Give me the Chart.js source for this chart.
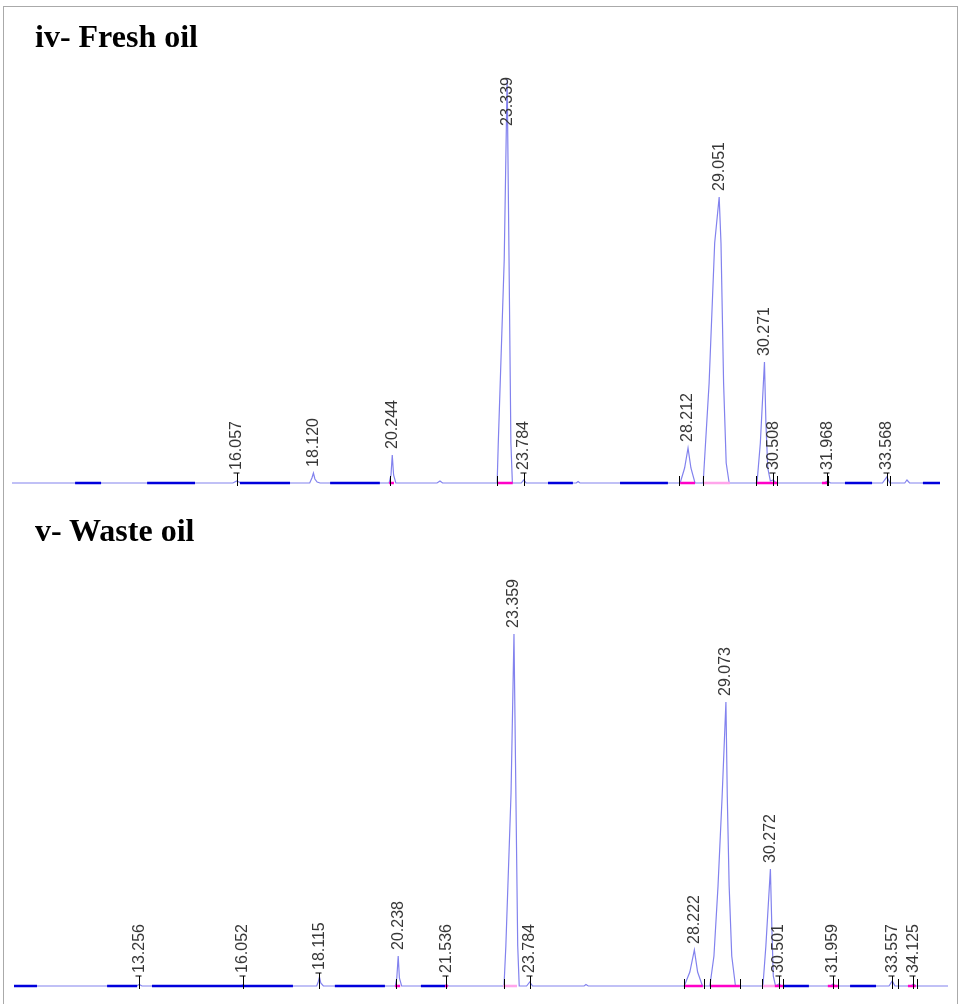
<!DOCTYPE html>
<html>
<head>
    <title>Chromatograms</title>
    <style>
        body {
            margin: 0;
            background-color: white;
            width: 959px;
            height: 1004px;
            overflow: hidden;
            position: relative;
        }

        #frame {
            position: absolute;
            left: 3px;
            top: 6px;
            width: 953px;
            height: 1010px;
            border: 1px solid rgb(170, 170, 170);
        }

        .panel-title {
            position: absolute;
            left: 35px;
            font-family: 'Liberation Serif', 'Times New Roman', serif;
            font-weight: bold;
            font-size: 32px;
            line-height: 32px;
            color: black;
            white-space: nowrap;
        }

        canvas {
            position: absolute;
            left: 0;
        }
    </style>
    <script src="https://cdn.jsdelivr.net/npm/chart.js"></script>
</head>
<body>
    <div id="frame"></div>

    <canvas id="fresh-chart" width="959" height="500" style="top:0px"></canvas>
    <canvas id="waste-chart" width="959" height="504" style="top:500px"></canvas>

    <div class="panel-title" style="top:20px">iv- Fresh oil</div>
    <div class="panel-title" style="top:514px">v- Waste oil</div>

    <script>
        // Retention time (min), detector response (arbitrary units)
        const freshTrace = [
            [10.0, 0], [15.95, 0], [16.057, 2], [16.17, 0],
            [18.02, 0], [18.08, 5], [18.12, 10], [18.16, 4], [18.22, 1], [18.3, 0],
            [20.16, 0], [20.21, 8], [20.244, 28], [20.28, 8], [20.34, 0],
            [21.45, 0], [21.53, 2], [21.6, 0],
            [23.07, 0], [23.10, 40], [23.26, 223], [23.339, 405], [23.39, 223], [23.44, 40], [23.48, 0],
            [23.72, 0], [23.784, 3], [23.85, 0],
            [25.2, 0], [25.25, 1.5], [25.3, 0],
            [28.00, 0], [28.12, 15], [28.212, 35], [28.29, 15], [28.40, 0],
            [28.62, 0], [28.78, 100], [28.93, 240], [29.051, 286], [29.10, 240], [29.17, 100], [29.24, 20], [29.32, 0],
            [30.07, 0], [30.16, 40], [30.271, 121], [30.31, 60], [30.36, 15], [30.43, 2], [30.508, 3], [30.58, 0],
            [31.88, 0], [31.968, 2], [32.05, 0],
            [33.45, 0], [33.568, 6], [33.65, 0],
            [34.05, 0], [34.11, 3], [34.18, 0],
            [35.0, 0]
        ];
        const freshLabels = ['16.057', '18.120', '20.244', '23.339', '23.784', '28.212',
                             '29.051', '30.271', '30.508', '31.968', '33.568'];
        const freshBounds = [20.18, 23.07, 27.97, 28.62, 30.04, 30.61, 31.99, 33.65];
        const freshBlue = [[11.70, 12.40], [13.64, 14.93], [16.14, 17.49], [18.57, 19.91],
                           [24.44, 25.11], [26.38, 27.67], [32.44, 33.17], [34.54, 35.0]];
        const freshMagenta = [[20.16, 20.29], [23.07, 23.49], [28.00, 28.40], [30.04, 30.61], [31.82, 31.98]];
        const freshPink = [[28.62, 29.34]];

        const wasteTrace = [
            [9.88, 0], [13.18, 0], [13.256, 1.5], [13.33, 0],
            [15.98, 0], [16.052, 1], [16.12, 0],
            [18.04, 0], [18.08, 4], [18.115, 9], [18.15, 3], [18.22, 0],
            [20.16, 0], [20.20, 8], [20.238, 30], [20.27, 8], [20.33, 0],
            [21.47, 0], [21.536, 1], [21.6, 0],
            [23.09, 0], [23.14, 40], [23.28, 193], [23.359, 352], [23.41, 193], [23.46, 40], [23.50, 0],
            [23.70, 0], [23.784, 4], [23.86, 0],
            [25.25, 0], [25.30, 1.5], [25.36, 0],
            [27.95, 0], [28.10, 14], [28.222, 36], [28.31, 14], [28.44, 0],
            [28.64, 0], [28.75, 30], [28.86, 100], [28.97, 189], [29.073, 284], [29.11, 189], [29.16, 100], [29.23, 30], [29.33, 0],
            [30.07, 0], [30.15, 40], [30.272, 117], [30.31, 60], [30.35, 10], [30.41, 0], [30.501, 2], [30.57, 0],
            [31.90, 0], [31.959, 2], [32.03, 0],
            [33.47, 0], [33.557, 5], [33.63, 0],
            [34.07, 0], [34.125, 2], [34.19, 0],
            [35.06, 0]
        ];
        const wasteLabels = ['13.256', '16.052', '18.115', '20.238', '21.536', '23.359', '23.784',
                             '28.222', '29.073', '30.272', '30.501', '31.959', '33.557', '34.125'];
        const wasteBounds = [20.18, 23.09, 27.94, 28.48, 28.64, 29.45, 30.04, 30.61, 32.09, 33.71, 34.23];
        const wasteBlue = [[9.88, 10.50], [12.39, 13.20], [13.60, 17.40], [18.53, 19.88],
                           [20.85, 21.50], [30.61, 31.31], [32.42, 33.12]];
        const wasteMagenta = [[20.15, 20.29], [21.50, 21.58], [27.94, 28.45], [28.64, 29.45],
                              [30.39, 30.61], [31.82, 32.09], [33.98, 34.19]];
        const wastePink = [[23.06, 23.44], [30.04, 30.39]];

        // turn [start, end] pairs into one broken baseline
        function segments(list) {
            const pts = [];
            list.forEach(s => {
                pts.push({x: s[0], y: 0}, {x: s[1], y: 0}, {x: s[1], y: null});
            });
            return pts;
        }

        // peak labels and integration marks, placed with the chart's own scales
        const peakMarks = {
            id: 'peakMarks',
            afterDatasetsDraw(chart, args, opts) {
                const ctx = chart.ctx;
                const area = chart.chartArea;
                const x = chart.scales.x;
                const y = chart.scales.y;
                const base = Math.round(y.getPixelForValue(0));

                ctx.save();
                ctx.strokeStyle = 'black';
                ctx.lineWidth = 1;
                opts.bounds.forEach(t => {
                    const px = Math.round(x.getPixelForValue(t)) + 0.5;
                    ctx.beginPath();
                    ctx.moveTo(px, base - 7);
                    ctx.lineTo(px, base + 3);
                    ctx.stroke();
                });

                ctx.font = '16px "Liberation Sans", Arial, sans-serif';
                ctx.fillStyle = 'rgb(55, 55, 55)';
                ctx.textAlign = 'left';
                ctx.textBaseline = 'middle';
                opts.labels.forEach(s => {
                    const t = parseFloat(s);
                    let h = 0;
                    opts.trace.forEach(p => {
                        if (Math.abs(p[0] - t) < 0.03 && p[1] > h) h = p[1];
                    });
                    const px = x.getPixelForValue(t);
                    const w = ctx.measureText(s).width;
                    let bottom = Math.min(y.getPixelForValue(h) - 6, base - 12);
                    bottom = Math.max(bottom, area.top + w - 1);

                    if (base - bottom < 16) {
                        const lx = Math.round(px) + 0.5;
                        ctx.beginPath();
                        ctx.moveTo(lx, base + 3);
                        ctx.lineTo(lx, bottom + 2);
                        ctx.moveTo(lx - 4, bottom + 2);
                        ctx.lineTo(lx + 2, bottom + 2);
                        ctx.stroke();
                        bottom -= 1;
                    }

                    ctx.save();
                    ctx.translate(px, bottom);
                    ctx.rotate(-Math.PI / 2);
                    ctx.fillText(s, 0, 0);
                    ctx.restore();
                });
                ctx.restore();
            }
        };

        function makeChart(id, trace, labels, bounds, blue, magenta, pink, xMin, xMax, yMax, pad) {
            const line = (data, color, width, order) => ({
                data: data,
                showLine: true,
                borderColor: color,
                borderWidth: width,
                pointRadius: 0,
                tension: 0,
                spanGaps: false,
                clip: false,
                order: order
            });

            return new Chart(document.getElementById(id).getContext('2d'), {
                type: 'scatter',
                data: {
                    datasets: [
                        line(segments(blue), 'rgb(0, 0, 220)', 2.5, 1),
                        line(segments(magenta), 'rgb(255, 0, 200)', 2.5, 1),
                        line(segments(pink), 'rgb(255, 165, 235)', 2.5, 1),
                        line(trace.map(p => ({x: p[0], y: p[1]})), 'rgb(130, 130, 238)', 1.2, 2)
                    ]
                },
                options: {
                    responsive: false,
                    animation: false,
                    layout: {padding: pad},
                    scales: {
                        x: {type: 'linear', min: xMin, max: xMax, display: false},
                        y: {min: 0, max: yMax, display: false}
                    },
                    plugins: {
                        legend: {display: false},
                        tooltip: {enabled: false},
                        peakMarks: {trace: trace, labels: labels, bounds: bounds}
                    }
                },
                plugins: [peakMarks]
            });
        }

        makeChart('fresh-chart', freshTrace, freshLabels, freshBounds, freshBlue, freshMagenta, freshPink,
                  10, 35, 405, {left: 12, right: 19, top: 78, bottom: 17});
        makeChart('waste-chart', wasteTrace, wasteLabels, wasteBounds, wasteBlue, wasteMagenta, wastePink,
                  9.88, 35.06, 411, {left: 14, right: 11, top: 75, bottom: 18});
    </script>
</body>
</html>
